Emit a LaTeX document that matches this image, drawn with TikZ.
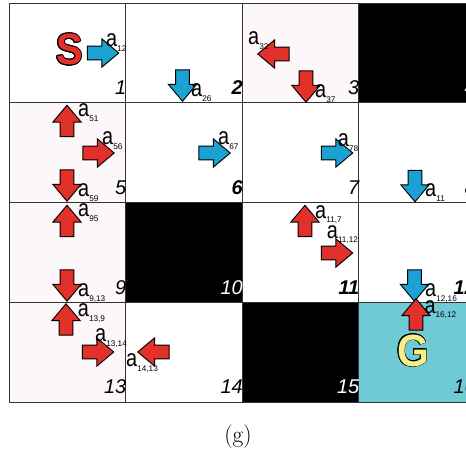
\documentclass[tikz,border=0pt]{standalone}
\usepackage{fontspec}
\usepackage[copies]{contour}
\usetikzlibrary{shapes.arrows}
\newfontfamily\arial{Liberation Sans}
\definecolor{sred}{HTML}{E2312A}
\definecolor{sblue}{HTML}{1BA1D2}
\definecolor{goalcyan}{HTML}{6FCAD6}
\definecolor{gyellow}{HTML}{F6EF85}
\definecolor{lpink}{HTML}{FCF8FA}
\definecolor{gridgray}{HTML}{333333}
\contourlength{0.7pt}
\newcommand\act[1]{{\fontsize{17}{17}\selectfont\scalebox{1}[1.2]{a}}\raisebox{-4pt}{\fontsize{7}{7}\selectfont #1}}

\begin{document}
\begin{tikzpicture}[x=0.03cm, y=0.03cm,
        blk/.style={single arrow, draw=black, line width=0.8pt, inner xsep=0pt, inner ysep=0.19cm,
            minimum height=0.94cm, single arrow head extend=0.22cm, single arrow tip angle=80},
        redarr/.style={blk, fill=sred},
        bluearr/.style={blk, fill=sblue},
        alab/.style={anchor=base west, inner sep=0pt, font=\arial},
        num/.style={anchor=base east, inner sep=0pt, font=\arial\itshape\fontsize{17}{17}\selectfont}]
        \useasboundingbox (0,0) rectangle (466,454);
        \clip (0,0) rectangle (466,454);

        % cells
        \fill[lpink] (242,351.25) rectangle (358.5,451);
        \fill[black] (358.5,351.25) rectangle (475,451);
        \fill[lpink] (9,251.5) rectangle (125.5,351.25);
        \fill[lpink] (9,151.75) rectangle (125.5,251.5);
        \fill[black] (125.5,151.75) rectangle (242,251.5);
        \fill[lpink] (9,52) rectangle (125.5,151.75);
        \fill[black] (242,52) rectangle (358.5,151.75);
        \fill[goalcyan] (358.5,52) rectangle (475,151.75);
        \foreach \x in {9,125.5,242,358.5,475}
            \draw[gridgray, line width=0.8pt] (\x,52) -- (\x,451);
        \foreach \y in {52,151.75,251.5,351.25,451}
            \draw[gridgray, line width=0.8pt] (9,\y) -- (475,\y);

        % cell numbers
        \foreach \n/\c/\r/\col/\wt in {1/1/1/black/\mdseries, 2/2/1/black/\bfseries, 3/3/1/black/\mdseries,
                4/4/1/white/\mdseries, 5/1/2/black/\mdseries, 6/2/2/black/\bfseries, 7/3/2/black/\mdseries,
                8/4/2/black/\mdseries, 9/1/3/black/\mdseries, 10/2/3/white/\mdseries, 11/3/3/black/\bfseries,
                12/4/3/black/\bfseries, 13/1/4/black/\mdseries, 14/2/4/black/\mdseries,
                15/3/4/white/\mdseries, 16/4/4/black/\mdseries}
            \node (n\n) [num, text=\col] at ({9+116.5*\c+1}, {451-99.75*\r+8}) {\wt\n};

        % start and goal
        \node (S) [font=\arial\bfseries\fontsize{34}{34}\selectfont, inner sep=0pt] at (69.5,404)
            {\contour{black}{\textcolor{sred}{\scalebox{1}[1.1]{S}}}};
        \node (G) [font=\arial\bfseries\fontsize{35}{35}\selectfont, inner sep=0pt] at (413,103)
            {\contour{black}{\textcolor{gyellow}{\scalebox{1}[1.1]{G}}}};

        % actions
        \node (r12) [bluearr] at (99,401) {};
        \node (r26) [bluearr, rotate=-90] at (182.5,372.5) {};
        \node (r32) [redarr, rotate=180] at (277.5,400) {};
        \node (r37) [redarr, rotate=-90] at (306,371.5) {};
        \node (r51) [redarr, rotate=90] at (67,329) {};
        \node (r56) [redarr] at (94.5,301) {};
        \node (r59) [redarr, rotate=-90] at (67,272.5) {};
        \node (r67) [bluearr] at (210.5,301) {};
        \node (r78) [bluearr] at (333,301) {};
        \node (r812) [bluearr, rotate=-90] at (415,272) {};
        \node (r95) [redarr, rotate=90] at (67,229) {};
        \node (r913) [redarr, rotate=-90] at (67,172.5) {};
        \node (r117) [redarr, rotate=90] at (305,229) {};
        \node (r1112) [redarr] at (333,201) {};
        \node (r1216) [bluearr, rotate=-90] at (414.5,172.5) {};
        \node (r139) [redarr, rotate=90] at (66,130.5) {};
        \node (r1314) [redarr] at (94,102) {};
        \node (r1413) [redarr, rotate=180] at (157.5,102) {};
        \node (r1612) [redarr, rotate=90] at (416,135.5) {};

        % action labels
        \node (l12) [alab] at (106,407) {\act{12}};
        \node (l26) [alab] at (191,357) {\act{26}};
        \node (l32) [alab] at (248,409) {\act{32}};
        \node (l37) [alab] at (315,356.3) {\act{37}};
        \node (l51) [alab] at (78,337.3) {\act{51}};
        \node (l56) [alab] at (102,309) {\act{56}};
        \node (l59) [alab] at (78,257.3) {\act{59}};
        \node (l67) [alab] at (218,309) {\act{67}};
        \node (l78) [alab] at (337.7,307.3) {\act{78}};
        \node (l812) [alab] at (425,257.3) {\act{11}};
        \node (l95) [alab] at (78,237.3) {\act{95}};
        \node (l913) [alab] at (78,157.3) {\act{9,13}};
        \node (l117) [alab] at (315,235.7) {\act{11,7}};
        \node (l1112) [alab] at (326.7,215.7) {\act{11,12}};
        \node (l1216) [alab] at (425,157.3) {\act{12,16}};
        \node (l139) [alab] at (77.7,137.3) {\act{13,9}};
        \node (l1314) [alab] at (95,112.3) {\act{13,14}};
        \node (l1413) [alab] at (126,87.3) {\act{14,13}};
        \node (l1612) [alab] at (424.3,140.7) {\act{16,12}};

        \node (cap) [font=\fontsize{20}{20}\selectfont] at (238,17) {(g)};
    \end{tikzpicture}
\end{document}
